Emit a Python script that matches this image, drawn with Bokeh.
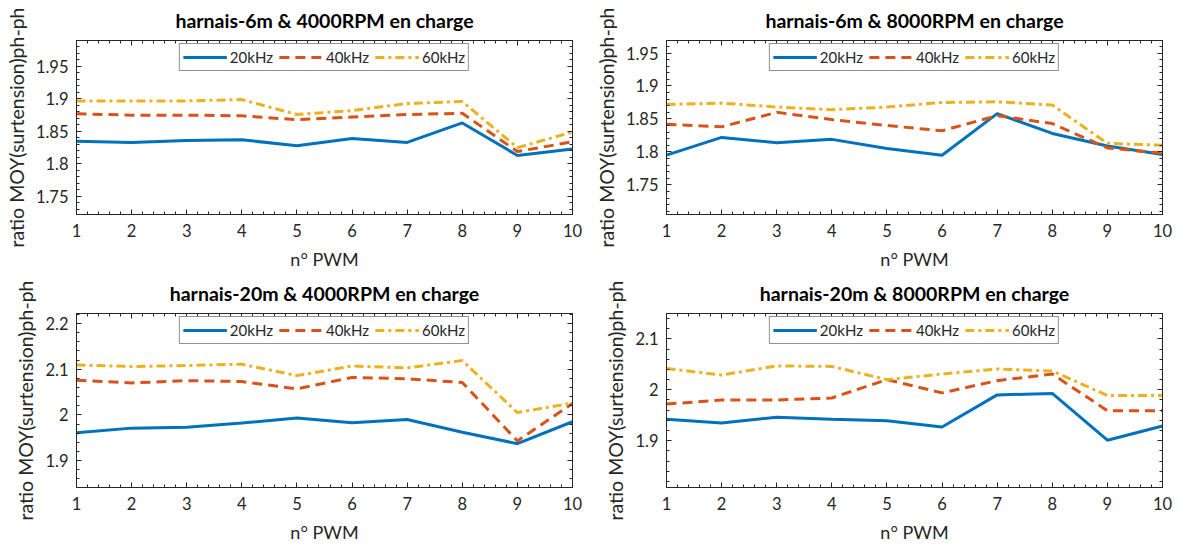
from bokeh.plotting import figure
from bokeh.models import Range1d, FixedTicker, LinearAxis, Legend, LegendItem, CustomJSTickFormatter
from bokeh.layouts import column, row
from bokeh.embed import file_html
from bokeh.resources import INLINE

# ---------------- data ----------------
pwm = [1, 2, 3, 4, 5, 6, 7, 8, 9, 10]
series_names = ["20kHz", "40kHz", "60kHz"]

titles = [
    "harnais-6m & 4000RPM en charge",
    "harnais-6m & 8000RPM en charge",
    "harnais-20m & 4000RPM en charge",
    "harnais-20m & 8000RPM en charge",
]

# harnais-6m, 4000 RPM
h6_4000_20k = [1.835, 1.833, 1.836, 1.837, 1.828, 1.839, 1.833, 1.863, 1.813, 1.823]
h6_4000_40k = [1.877, 1.875, 1.875, 1.874, 1.868, 1.872, 1.876, 1.878, 1.819, 1.834]
h6_4000_60k = [1.897, 1.897, 1.897, 1.899, 1.876, 1.882, 1.893, 1.896, 1.825, 1.849]

# harnais-6m, 8000 RPM
h6_8000_20k = [1.795, 1.822, 1.814, 1.819, 1.805, 1.795, 1.858, 1.828, 1.809, 1.796]
h6_8000_40k = [1.842, 1.838, 1.860, 1.849, 1.840, 1.832, 1.855, 1.843, 1.806, 1.798]
h6_8000_60k = [1.872, 1.874, 1.868, 1.864, 1.868, 1.875, 1.876, 1.871, 1.813, 1.810]

# harnais-20m, 4000 RPM
h20_4000_20k = [1.961, 1.971, 1.973, 1.982, 1.993, 1.983, 1.990, 1.962, 1.937, 1.985]
h20_4000_40k = [2.076, 2.070, 2.075, 2.073, 2.057, 2.082, 2.079, 2.071, 1.943, 2.025]
h20_4000_60k = [2.109, 2.106, 2.108, 2.111, 2.086, 2.107, 2.103, 2.119, 2.005, 2.026]

# harnais-20m, 8000 RPM
h20_8000_20k = [1.942, 1.935, 1.946, 1.942, 1.939, 1.927, 1.990, 1.993, 1.901, 1.929]
h20_8000_40k = [1.972, 1.980, 1.980, 1.984, 2.020, 1.994, 2.018, 2.031, 1.959, 1.959]
h20_8000_60k = [2.042, 2.029, 2.047, 2.046, 2.020, 2.031, 2.041, 2.037, 1.989, 1.989]

y_limits = [(1.722, 1.990), (1.705, 1.969), (1.841, 2.222), (1.808, 2.150)]
y_ticks = [
    [1.75, 1.8, 1.85, 1.9, 1.95],
    [1.75, 1.8, 1.85, 1.9, 1.95],
    [1.9, 2.0, 2.1, 2.2],
    [1.9, 2.0, 2.1],
]
x_label = "n° PWM"
y_label = "ratio MOY(surtension)ph-ph"

# ---------------- style ----------------
FONT = "Lato"
AX = "#262626"
colors = ["#0072BD", "#D95319", "#EDB120"]
dashes = ["solid", "10 6", "9 4 3 4"]

panels = [
    (h6_4000_20k, h6_4000_40k, h6_4000_60k),
    (h6_8000_20k, h6_8000_40k, h6_8000_60k),
    (h20_4000_20k, h20_4000_40k, h20_4000_60k),
    (h20_8000_20k, h20_8000_40k, h20_8000_60k),
]

fmt = CustomJSTickFormatter(code="return (Math.round(tick*100)/100).toString();")
blank_fmt = CustomJSTickFormatter(code="return '';")


def minor_list(major, n=5):
    out = []
    for a, b in zip(major[:-1], major[1:]):
        for k in range(1, n):
            out.append(a + (b - a) * k / n)
    return out


def style_axis(ax, show_labels=True):
    ax.axis_line_color = AX
    ax.axis_line_width = 1
    ax.major_tick_in = 5
    ax.major_tick_out = 0
    ax.minor_tick_in = 3
    ax.minor_tick_out = 0
    ax.major_tick_line_color = AX
    ax.minor_tick_line_color = AX
    ax.major_label_text_font = FONT
    ax.major_label_text_color = AX
    ax.major_label_text_font_size = "16.5px"
    if not show_labels:
        ax.formatter = blank_fmt
        ax.major_label_standoff = 0
        ax.major_label_text_font_size = "1px"


def make_panel(i, width, height, mb_left, mb_right, mb_top, mb_bottom):
    ylo, yhi = y_limits[i]
    p = figure(
        width=width, height=height,
        x_range=Range1d(1, 10), y_range=Range1d(ylo, yhi),
        output_backend="svg", toolbar_location=None,
        min_border_left=mb_left, min_border_right=mb_right,
        min_border_top=mb_top, min_border_bottom=mb_bottom,
    )
    p.title.text = titles[i]
    p.title.align = "center"
    p.title.vertical_align = "top"
    p.title.text_font = FONT
    p.title.text_font_size = "19.5px"
    p.title.text_font_style = "bold"
    p.title.text_color = "black"
    p.title.offset = 0
    p.title.standoff = 14
    p.xgrid.visible = False
    p.ygrid.visible = False
    p.outline_line_color = AX
    p.outline_line_alpha = 1
    p.background_fill_color = "white"
    p.border_fill_color = "white"

    xt = FixedTicker(ticks=pwm, minor_ticks=minor_list(pwm))
    step = y_ticks[i][1] - y_ticks[i][0]
    yt = FixedTicker(ticks=y_ticks[i], minor_ticks=minor_list(
        [y_ticks[i][0] - step] + y_ticks[i] + [y_ticks[i][-1] + step]))

    p.xaxis.ticker = xt
    p.yaxis.ticker = yt
    p.yaxis.formatter = fmt
    for ax in p.xaxis + p.yaxis:
        style_axis(ax)
    p.xaxis.axis_label = x_label
    p.yaxis.axis_label = y_label
    for ax in p.xaxis + p.yaxis:
        ax.axis_label_text_font = FONT
        ax.axis_label_text_font_style = "normal"
        ax.axis_label_text_color = AX
    p.xaxis.axis_label_text_font_size = "18px"
    p.yaxis.axis_label_text_font_size = "19.5px"
    p.xaxis.major_label_standoff = 9
    p.xaxis.axis_label_standoff = 8
    p.yaxis.major_label_standoff = 8
    p.yaxis.axis_label_standoff = 5

    top = LinearAxis(ticker=FixedTicker(ticks=pwm, minor_ticks=minor_list(pwm)))
    style_axis(top, show_labels=False)
    p.add_layout(top, "above")
    right = LinearAxis(ticker=yt)
    style_axis(right, show_labels=False)
    p.add_layout(right, "right")

    items = []
    for vals, name, c, d in zip(panels[i], series_names, colors, dashes):
        r = p.line(pwm, vals, line_color=c, line_width=3, line_dash=d)
        items.append(LegendItem(label=name, renderers=[r]))
    leg = Legend(items=items, orientation="horizontal", location="top_center")
    leg.label_text_font = FONT
    leg.label_text_font_size = "15px"
    leg.label_text_color = AX
    leg.glyph_width = 44
    leg.glyph_height = 20
    leg.label_height = 20
    leg.label_standoff = 3
    leg.spacing = 6
    leg.padding = 3
    leg.margin = 3
    leg.border_line_color = AX
    leg.border_line_width = 1
    leg.background_fill_color = "white"
    leg.background_fill_alpha = 1
    p.add_layout(leg, "center")
    return p


p1 = make_panel(0, 590, 273, 76, 18, 40, 59)
p2 = make_panel(1, 588, 273, 76, 16, 40, 59)
p3 = make_panel(2, 590, 272, 76, 18, 40, 58)
p4 = make_panel(3, 588, 272, 76, 16, 40, 58)

layout = column(row(p1, p2), row(p3, p4))

with open("out.html", "w") as f:
    f.write(file_html(layout, INLINE))
